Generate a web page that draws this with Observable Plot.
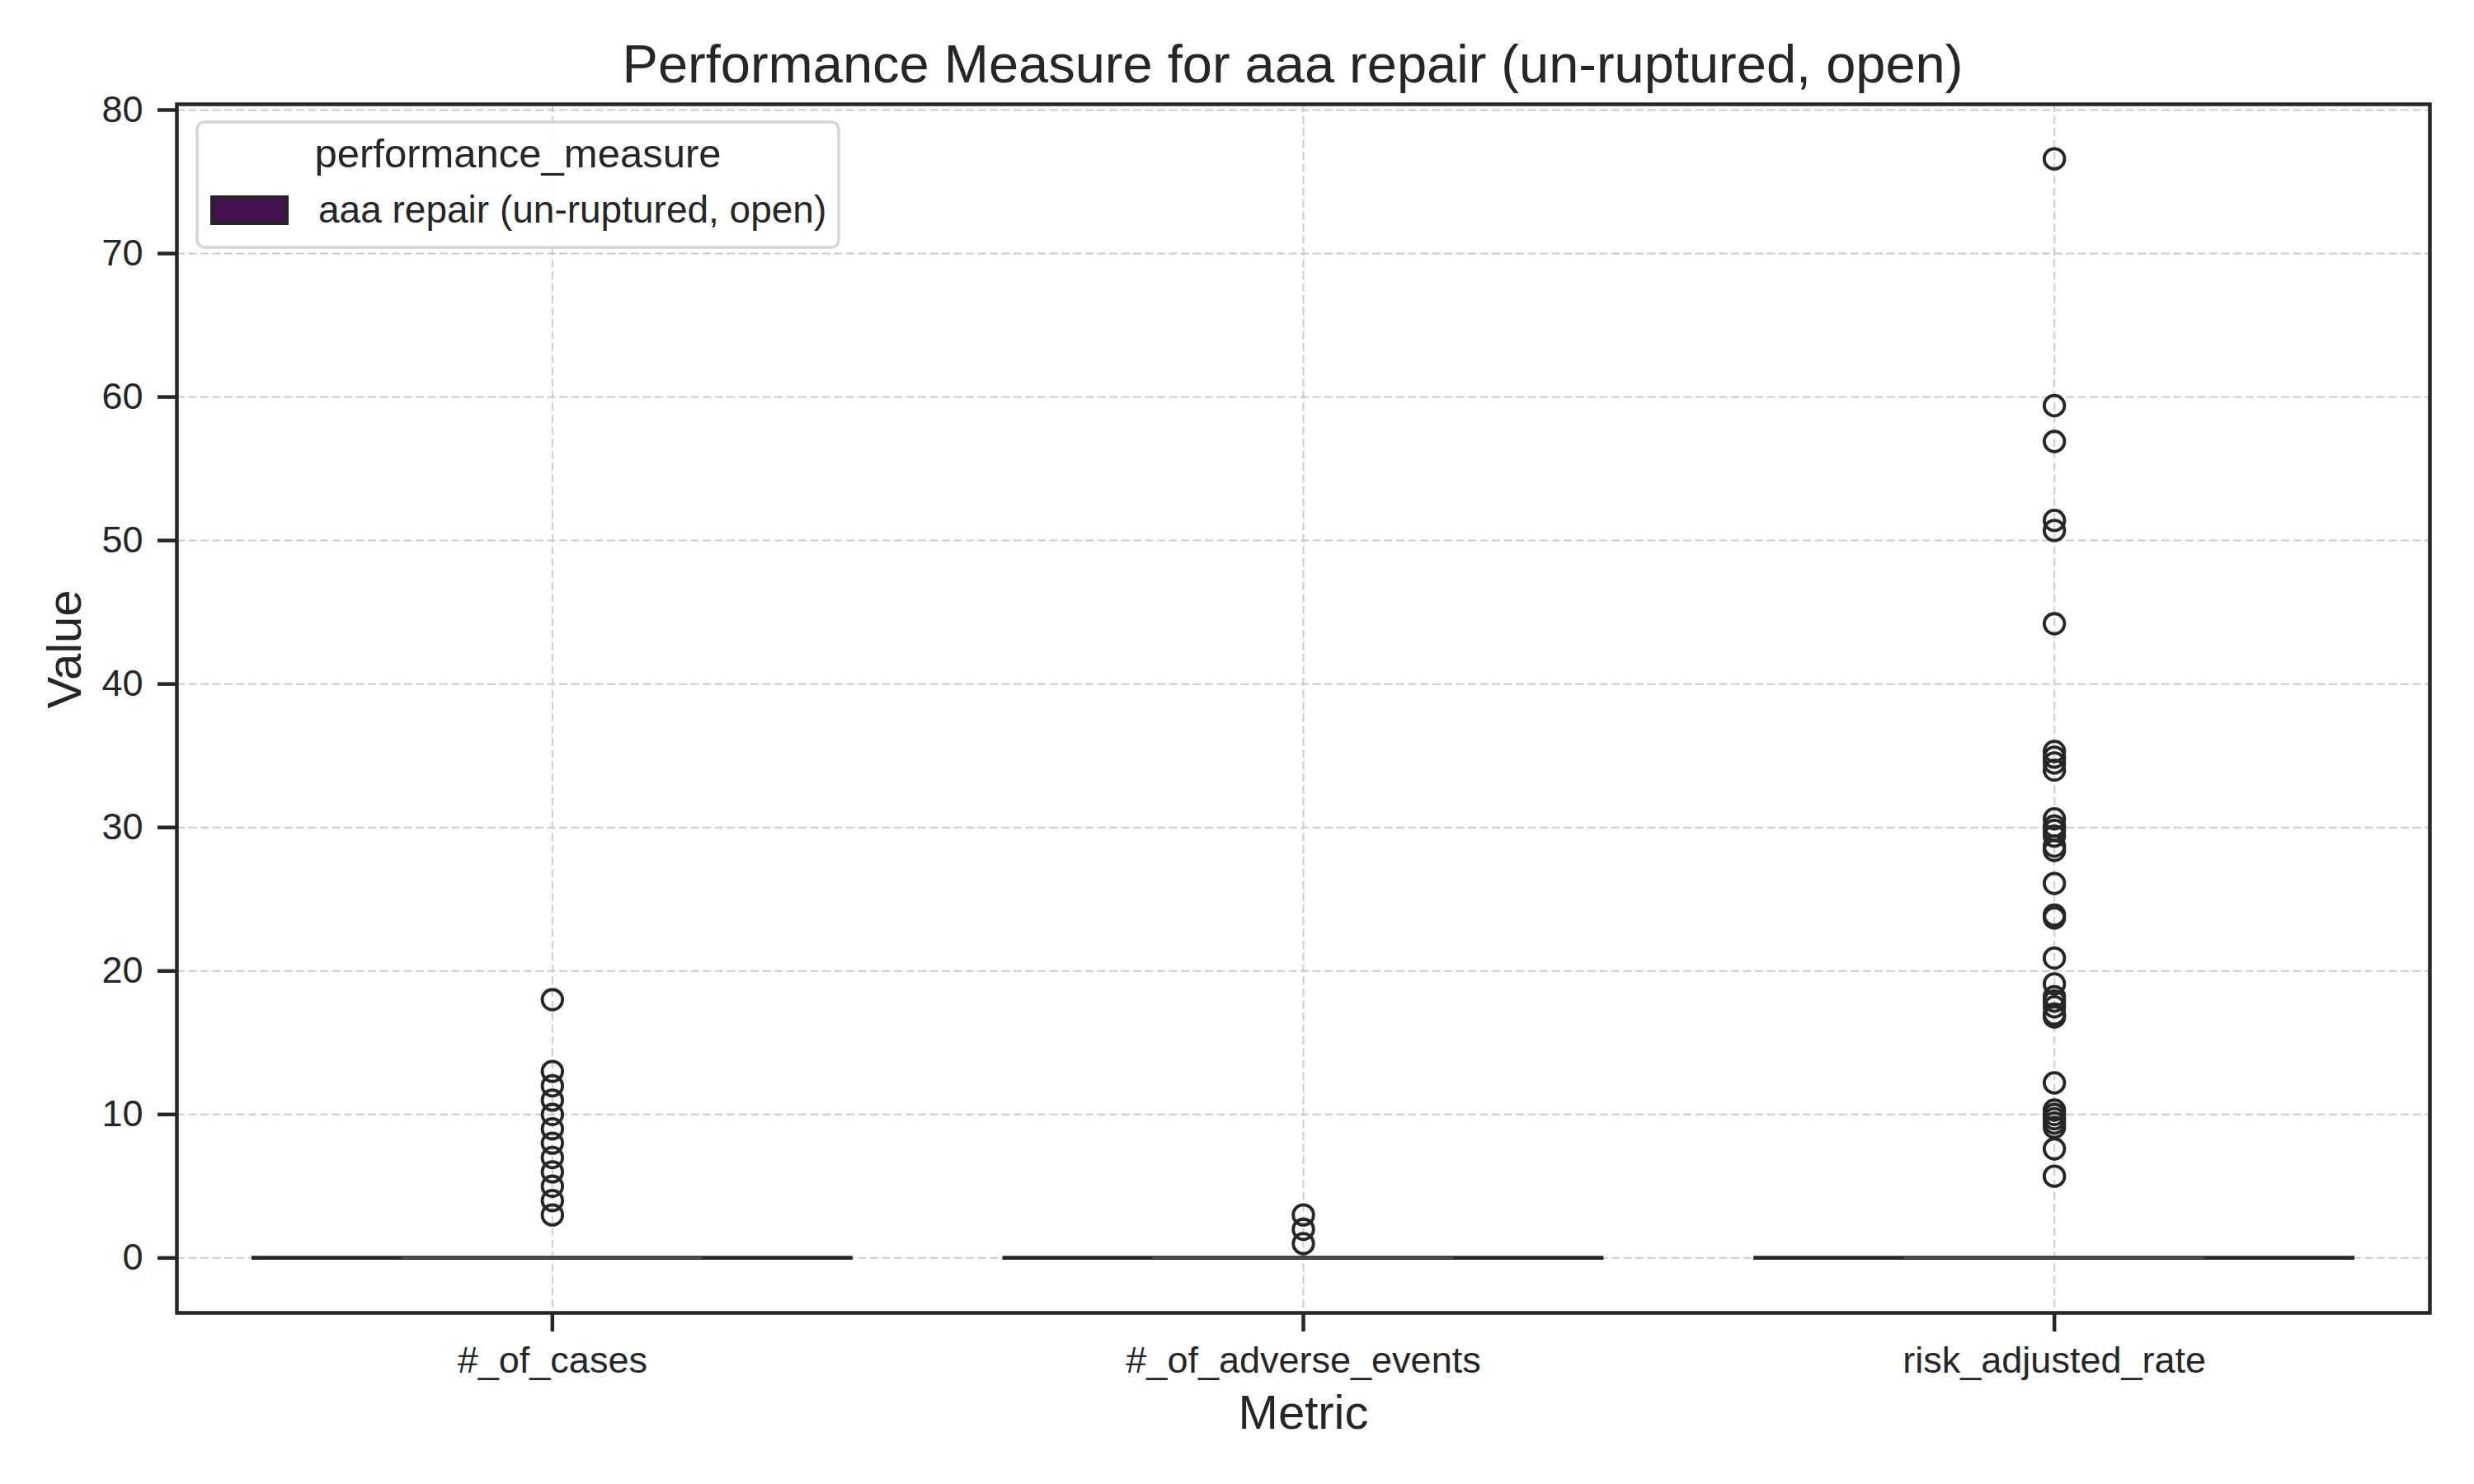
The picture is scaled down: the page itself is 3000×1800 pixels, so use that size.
<!DOCTYPE html>
<html>
<head>
<meta charset="utf-8">
<script src="https://cdn.jsdelivr.net/npm/d3@7"></script>
<script src="https://cdn.jsdelivr.net/npm/@observablehq/plot@0.6"></script>
<style>
  body { margin: 0; background: #fff; }
  #chart { width: 3000px; height: 1800px; }
</style>
</head>
<body>
<div id="chart"></div>
<script>
const font = "'Liberation Sans', Arial, sans-serif";
const ink = "#262626";

const title = "Performance Measure for aaa repair (un-ruptured, open)";
const metrics = ["#_of_cases", "#_of_adverse_events", "risk_adjusted_rate"];
const yTicks = [0, 10, 20, 30, 40, 50, 60, 70, 80];

// box stats per metric (all collapse to 0)
const boxQ1 = [0, 0, 0];
const boxMedian = [0, 0, 0];
const boxQ3 = [0, 0, 0];
const whiskerLo = [0, 0, 0];
const whiskerHi = [0, 0, 0];

// fliers
const casesOut = [3, 4, 5, 6, 7, 8, 9, 10, 11, 12, 13, 18];
const adverseOut = [1, 2, 3];
const riskOut = [76.6, 59.4, 56.9, 51.4, 50.7, 44.2, 35.3, 34.9, 34.5, 34.0,
  30.6, 30.1, 29.8, 29.4, 28.7, 28.4, 26.1, 23.9, 23.7, 20.9, 19.1,
  18.2, 17.9, 17.5, 17.0, 16.8, 12.2, 10.3, 10.0, 9.7, 9.4, 9.1, 7.6, 5.7];

const legendTitle = "performance_measure";
const legendLabel = "aaa repair (un-ruptured, open)";
const boxColor = "#44134f";

const boxes = metrics.map((m, i) => ({
  i, q1: boxQ1[i], med: boxMedian[i], q3: boxQ3[i], lo: whiskerLo[i], hi: whiskerHi[i]
}));
const fliers = [casesOut, adverseOut, riskOut].flatMap((vals, i) => vals.map(v => ({i, v})));

const grid = {stroke: "#cccccc", strokeOpacity: 1, strokeWidth: 2, strokeDasharray: "10,4.5"};

const chart = Plot.plot({
  width: 3000,
  height: 1800,
  marginTop: 126,
  marginRight: 54,
  marginBottom: 208,
  marginLeft: 214,
  style: {fontFamily: font, fontSize: "45px", color: ink, background: "#fff"},
  x: {domain: [-0.5, 2.5]},
  y: {domain: [-3.83, 80.4]},
  marks: [
    Plot.gridY({ticks: yTicks, ...grid}),
    Plot.gridX({ticks: [0, 1, 2], ...grid}),
    // whiskers
    Plot.ruleY(boxes, {y: "lo", x1: d => d.i - 0.4, x2: d => d.i + 0.4, stroke: ink, strokeWidth: 4.5}),
    Plot.ruleY(boxes, {y: "hi", x1: d => d.i - 0.4, x2: d => d.i + 0.4, stroke: ink, strokeWidth: 4.5}),
    // boxes
    Plot.rect(boxes, {x1: d => d.i - 0.4, x2: d => d.i + 0.4, y1: "q1", y2: "q3", fill: boxColor, stroke: ink, strokeWidth: 4.5}),
    Plot.ruleY(boxes, {y: "med", x1: d => d.i - 0.2, x2: d => d.i + 0.2, stroke: "#555", strokeWidth: 2}),
    Plot.dot(fliers, {x: "i", y: "v", r: 12.3, fill: "none", stroke: ink, strokeWidth: 3.8}),
    Plot.frame({stroke: ink, strokeWidth: 4.5}),
    Plot.axisY({ticks: yTicks, tickSize: 23, tickPadding: 18, strokeWidth: 4.5, fontSize: 45, label: null}),
    Plot.axisX({ticks: [0, 1, 2], tickFormat: i => metrics[i], tickSize: 23, tickPadding: 18, strokeWidth: 4.5, fontSize: 45, label: null}),
    Plot.text([title], {frameAnchor: "top", dx: -13, dy: -47, fontSize: 65, lineAnchor: "middle", fill: ink}),
    Plot.text(["Value"], {frameAnchor: "left", dx: -135, rotate: -90, fontSize: 58, lineAnchor: "middle", fill: ink}),
    Plot.text(["Metric"], {frameAnchor: "bottom", dy: 122, fontSize: 58, lineAnchor: "middle", fill: ink})
  ]
});

d3.select("#chart").append(() => chart);

// legend box top-left, like seaborn's
const svg = d3.select(chart);
const lg = svg.append("g").attr("font-family", font).attr("fill", ink);
lg.append("rect")
  .attr("x", 239).attr("y", 148).attr("width", 778).attr("height", 152)
  .attr("rx", 9).attr("fill", "#fff").attr("fill-opacity", 0.85)
  .attr("stroke", "#d4d4d4").attr("stroke-width", 3.5);
lg.append("text")
  .attr("x", 628).attr("y", 203).attr("text-anchor", "middle")
  .attr("font-size", 49).text(legendTitle);
lg.append("rect")
  .attr("x", 257).attr("y", 239).attr("width", 91).attr("height", 32)
  .attr("fill", boxColor).attr("stroke", ink).attr("stroke-width", 4);
lg.append("text")
  .attr("x", 386).attr("y", 270).attr("text-anchor", "start")
  .attr("font-size", 46).text(legendLabel);
</script>
</body>
</html>
